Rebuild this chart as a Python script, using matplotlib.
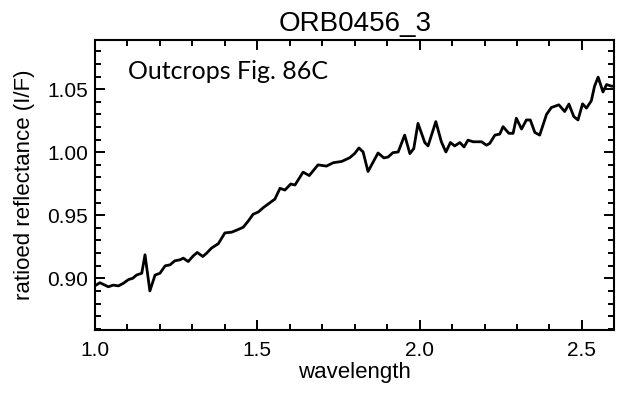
"""Ratioed reflectance spectrum, ORB0456_3 (outcrops, Fig. 86C)."""
import matplotlib

matplotlib.use("Agg")
import matplotlib.pyplot as plt
from matplotlib.ticker import MultipleLocator

TITLE = "ORB0456_3"
NOTE = "Outcrops Fig. 86C"

# values
wavelength = [
    1.003, 1.015, 1.041, 1.056, 1.072, 1.087, 1.103, 1.116, 1.128, 1.144,
    1.154, 1.169, 1.185, 1.200, 1.216, 1.231, 1.246, 1.262, 1.272, 1.287,
    1.303, 1.315, 1.332, 1.344, 1.359, 1.380, 1.400, 1.421, 1.441, 1.457,
    1.472, 1.487, 1.503, 1.518, 1.539, 1.554, 1.570, 1.585, 1.603, 1.616,
    1.641, 1.660, 1.687, 1.713, 1.734, 1.760, 1.785, 1.800, 1.813, 1.826,
    1.841, 1.872, 1.890, 1.903, 1.918, 1.934, 1.954, 1.970, 1.982, 1.995,
    2.016, 2.026, 2.050, 2.067, 2.081, 2.095, 2.108, 2.124, 2.137, 2.149,
    2.165, 2.191, 2.206, 2.216, 2.232, 2.247, 2.257, 2.275, 2.288, 2.298,
    2.314, 2.329, 2.341, 2.355, 2.370, 2.391, 2.406, 2.429, 2.447, 2.460,
    2.475, 2.488, 2.502, 2.514, 2.529, 2.539, 2.550, 2.565, 2.576, 2.591,
    2.601,
]
reflectance = [
    0.8946, 0.8965, 0.8933, 0.8946, 0.8940, 0.8960, 0.8990, 0.9000, 0.9026, 0.9040,
    0.9187, 0.8900, 0.9026, 0.9040, 0.9099, 0.9107, 0.9139, 0.9147, 0.9160, 0.9133,
    0.9179, 0.9205, 0.9173, 0.9200, 0.9240, 0.9275, 0.9360, 0.9366, 0.9387, 0.9406,
    0.9454, 0.9508, 0.9526, 0.9560, 0.9600, 0.9628, 0.9714, 0.9700, 0.9748, 0.9740,
    0.9842, 0.9815, 0.9900, 0.9890, 0.9917, 0.9927, 0.9957, 0.9990, 1.0034, 1.0002,
    0.9847, 0.9994, 0.9955, 0.9962, 0.9997, 1.0002, 1.0136, 0.9989, 1.0029, 1.0229,
    1.0077, 1.0050, 1.0243, 1.0083, 1.0002, 1.0077, 1.0050, 1.0077, 1.0042, 1.0096,
    1.0083, 1.0083, 1.0056, 1.0070, 1.0136, 1.0144, 1.0203, 1.0150, 1.0150, 1.0270,
    1.0184, 1.0256, 1.0256, 1.0157, 1.0136, 1.0300, 1.0355, 1.0376, 1.0323, 1.0382,
    1.0283, 1.0256, 1.0384, 1.0350, 1.0408, 1.0524, 1.0596, 1.0478, 1.0537, 1.0524,
    1.0524,
]

plt.rcParams["font.family"] = ["Liberation Sans", "DejaVu Sans"]

fig = plt.figure(figsize=(6.19, 3.94), dpi=100)
ax = fig.add_axes([0.1535, 0.1624, 0.839, 0.736])

ax.plot(wavelength, reflectance, color="black", lw=2.0)

ax.set_xlim(1.0, 2.6)
ax.set_ylim(0.859, 1.089)
ax.xaxis.set_major_locator(MultipleLocator(0.5))
ax.xaxis.set_minor_locator(MultipleLocator(0.1))
ax.yaxis.set_major_locator(MultipleLocator(0.05))
ax.yaxis.set_minor_locator(MultipleLocator(0.01))
ax.xaxis.set_major_formatter(lambda v, p: f"{v:.1f}")
ax.yaxis.set_major_formatter(lambda v, p: f"{v:.2f}")

ax.tick_params(which="both", direction="in", top=True, right=True, width=1.4)
ax.tick_params(which="major", length=7.2, labelsize=15)
ax.tick_params(which="minor", length=4.3)
ax.tick_params(axis="x", which="major", pad=8)
ax.tick_params(axis="y", which="major", pad=4.8)
for s in ax.spines.values():
    s.set_linewidth(1.5)

ax.set_xlabel("wavelength", fontsize=16, labelpad=1)
ax.set_ylabel("ratioed reflectance (I/F)", fontsize=16, labelpad=9)
ax.set_title(TITLE, fontsize=20, pad=6.5)

ax.text(0.064, 0.867, NOTE, transform=ax.transAxes, fontsize=18,
        family=["Lato", "DejaVu Sans"], va="baseline", ha="left")

fig.savefig("out.png", dpi=100)
